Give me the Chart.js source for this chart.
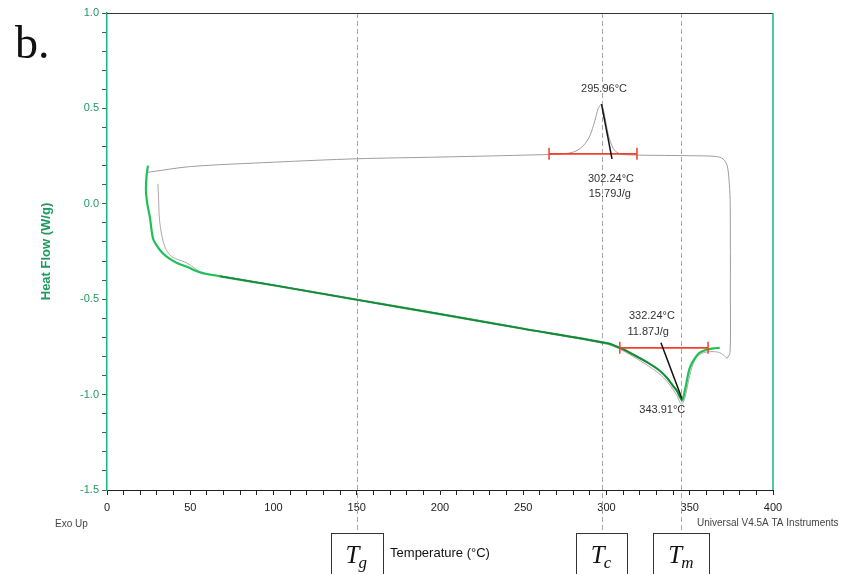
<!DOCTYPE html>
<html lang="en">
<head>
    <meta charset="UTF-8">
    <title>DSC Heat Flow</title>
    <script src="https://cdn.jsdelivr.net/npm/chart.js"></script>
    <style>
        html, body { margin: 0; padding: 0; background: #fff; }
        #wrap { position: relative; width: 847px; height: 574px; }
    </style>
</head>
<body>
<div id="wrap"><canvas id="myChart" width="847" height="574"></canvas></div>

<script>
    // first heating (gray)
    const heat1T  = [30.6, 31.0, 31.5, 33, 35, 38, 42, 48, 56, 68, 100, 150, 200, 250, 300, 308, 316, 326, 333, 338, 342, 345, 347, 350, 353, 357, 362, 368, 372.5];
    const heat1HF = [0.105, 0.02, -0.08, -0.17, -0.23, -0.27, -0.29, -0.31, -0.355, -0.378, -0.425, -0.50, -0.576, -0.652, -0.735, -0.762, -0.80, -0.855, -0.90, -0.95, -1.00, -1.05, -1.02, -0.90, -0.82, -0.785, -0.775, -0.78, -0.81];

    // cooling (gray), right to left
    const coolT  = [372.5, 374.2, 374.4, 374.3, 373.8, 372.5, 370, 366, 350, 320, 310, 307, 304, 301, 299.1, 297, 295, 293, 290, 286, 281, 274, 250, 200, 150, 100, 50, 24.6];
    const coolHF = [-0.81, -0.78, -0.5, 0.0, 0.1, 0.2, 0.235, 0.248, 0.252, 0.255, 0.258, 0.266, 0.29, 0.366, 0.452, 0.522, 0.498, 0.435, 0.356, 0.304, 0.274, 0.262, 0.255, 0.245, 0.236, 0.218, 0.195, 0.165];

    // second heating (green)
    const heat2T  = [24.6, 23.8, 23.4, 24.2, 25.8, 27.6, 30, 33.6, 38, 42, 48, 56, 68, 100, 150, 200, 250, 300, 308, 316, 326, 332, 336.3, 340, 342.3, 344, 345.3, 346, 347.5, 350, 353, 356, 360, 364, 368];
    const heat2HF = [0.20, 0.15, 0.068, 0.0, -0.073, -0.18, -0.22, -0.26, -0.29, -0.31, -0.33, -0.36, -0.38, -0.427, -0.503, -0.578, -0.655, -0.73, -0.755, -0.79, -0.839, -0.875, -0.912, -0.955, -0.98, -1.01, -1.03, -1.02, -0.96, -0.86, -0.81, -0.78, -0.765, -0.758, -0.755];

    // integration baselines (red) and onset tangents (black)
    const base1T = [265.5, 318.3], base1HF = [0.262, 0.262];
    const base2T = [308, 361],     base2HF = [-0.755, -0.755];
    const tan1T  = [297, 303.3],   tan1HF  = [0.522, 0.236];
    const tan2T  = [332.7, 345.3], tan2HF  = [-0.728, -1.02];

    // transition markers
    const markT = [150, 297, 345];
    const markLabels = [['T', 'g'], ['T', 'c'], ['T', 'm']];

    const xTicks = [0, 50, 100, 150, 200, 250, 300, 350, 400];
    const yTicks = [-1.5, -1.0, -0.5, 0.0, 0.5, 1.0];

    const peakNotes = [
        {text: '295.96°C', x: 298.5, y: 0.603},
        {text: '302.24°C', x: 302.7, y: 0.131},
        {text: '15.79J/g', x: 302,   y: 0.052},
        {text: '332.24°C', x: 327.3, y: -0.587},
        {text: '11.87J/g', x: 325,   y: -0.671},
        {text: '343.91°C', x: 333.5, y: -1.08}
    ];

    const GREEN_AXIS = '#12b97a';
    const GREEN_TEXT = '#1e9a60';

    const pts = (xs, ys) => xs.map((x, i) => ({x: x, y: ys[i]}));

    const line = (label, xs, ys, color, width, extra) => Object.assign({
        label: label,
        data: pts(xs, ys),
        showLine: true,
        borderColor: color,
        backgroundColor: color,
        borderWidth: width,
        pointRadius: 0,
        tension: 0.3
    }, extra || {});

    const overlay = {
        id: 'overlay',
        beforeDatasetsDraw(chart) {
            const {ctx, chartArea: a, scales: {x}} = chart;
            ctx.save();
            ctx.strokeStyle = '#a8a8a8';
            ctx.lineWidth = 1;
            ctx.setLineDash([5, 3]);
            markT.forEach(t => {
                const px = Math.round(x.getPixelForValue(t)) + 0.5;
                ctx.beginPath();
                ctx.moveTo(px, a.top);
                ctx.lineTo(px, 533);
                ctx.stroke();
            });
            ctx.restore();
        },
        afterDraw(chart) {
            const {ctx, chartArea: a, scales: {x, y}} = chart;
            ctx.save();
            // frame
            ctx.lineWidth = 1;
            ctx.strokeStyle = '#333';
            ctx.beginPath();
            ctx.moveTo(a.left, a.top + 0.5);
            ctx.lineTo(a.right, a.top + 0.5);
            ctx.stroke();
            ctx.strokeStyle = GREEN_AXIS;
            ctx.lineWidth = 1.5;
            ctx.beginPath();
            ctx.moveTo(a.right, a.top);
            ctx.lineTo(a.right, a.bottom);
            ctx.stroke();

            // peak notes
            ctx.fillStyle = '#333';
            ctx.font = '11px "Liberation Sans", Arial, sans-serif';
            ctx.textAlign = 'center';
            ctx.textBaseline = 'middle';
            peakNotes.forEach(n => {
                ctx.fillText(n.text, x.getPixelForValue(n.x), y.getPixelForValue(n.y));
            });

            // small texts
            ctx.font = '10px "Liberation Sans", Arial, sans-serif';
            ctx.fillStyle = '#444';
            ctx.textAlign = 'left';
            ctx.fillText('Exo Up', 55, 524);
            ctx.fillText('Universal V4.5A TA Instruments', 697, 523);

            ctx.fillStyle = '#111';
            ctx.font = '13px "Liberation Sans", Arial, sans-serif';
            ctx.textAlign = 'center';
            ctx.fillText('Temperature (°C)', 440, 553);

            // panel letter
            ctx.font = '46px "Liberation Serif", "DejaVu Serif", serif';
            ctx.textAlign = 'left';
            ctx.textBaseline = 'alphabetic';
            ctx.fillText('b.', 15, 58);

            // marker boxes
            const boxW = [52, 51, 56];
            markT.forEach((t, i) => {
                const cx = x.getPixelForValue(t);
                const w = boxW[i];
                const bx = Math.round(cx - w / 2) + 0.5;
                ctx.strokeStyle = '#333';
                ctx.lineWidth = 1;
                ctx.strokeRect(bx, 533.5, w, 50);
                ctx.fillStyle = '#111';
                ctx.font = 'italic 25px "Liberation Serif", "DejaVu Serif", serif';
                const main = markLabels[i][0], sub = markLabels[i][1];
                const mw = ctx.measureText(main).width;
                ctx.font = 'italic 17px "Liberation Serif", "DejaVu Serif", serif';
                const sw = ctx.measureText(sub).width;
                const sx = cx - (mw + sw) / 2;
                ctx.font = 'italic 25px "Liberation Serif", "DejaVu Serif", serif';
                ctx.fillText(main, sx, 563);
                ctx.font = 'italic 17px "Liberation Serif", "DejaVu Serif", serif';
                ctx.fillText(sub, sx + mw - 1, 568);
            });
            ctx.restore();
        }
    };

    const config = {
        type: 'scatter',
        data: {
            datasets: [
                line('tan1', tan1T, tan1HF, '#111', 1.5, {tension: 0}),
                line('tan2', tan2T, tan2HF, '#111', 1.5, {tension: 0}),
                line('base1', base1T, base1HF, '#f0402a', 1.8, {tension: 0, pointStyle: 'line', rotation: 90, pointRadius: 6, pointBorderWidth: 1.5}),
                line('base2', base2T, base2HF, '#f0402a', 1.8, {tension: 0, pointStyle: 'line', rotation: 90, pointRadius: 6, pointBorderWidth: 1.5}),
                line('heat2dark', heat2T.slice(12, 27), heat2HF.slice(12, 27), '#22803a', 1.6),
                line('heat2', heat2T, heat2HF, '#1dc257', 2.2),
                line('cool', coolT, coolHF, '#a39c9c', 1),
                line('heat1', heat1T, heat1HF, '#b0a6a6', 1)
            ]
        },
        options: {
            responsive: false,
            animation: false,
            layout: {padding: {left: 0, top: 13, right: 74, bottom: 0}},
            plugins: {
                legend: {display: false},
                tooltip: {enabled: false}
            },
            scales: {
                x: {
                    type: 'linear',
                    min: 0,
                    max: 400,
                    afterFit: s => { s.height = 84; },
                    afterBuildTicks: s => {
                        s.ticks = [];
                        for (let v = 0; v <= 400; v += 10) s.ticks.push({value: v});
                    },
                    ticks: {
                        autoSkip: false,
                        maxRotation: 0,
                        padding: 6,
                        color: '#222',
                        font: {family: '"Liberation Sans", Arial, sans-serif', size: 11},
                        callback: v => xTicks.includes(v) ? String(v) : ''
                    },
                    border: {color: '#222', width: 1},
                    grid: {drawOnChartArea: false, drawTicks: true, tickLength: 5, color: '#222'}
                },
                y: {
                    type: 'linear',
                    min: -1.5,
                    max: 1.0,
                    afterFit: s => { s.width = 107; },
                    afterBuildTicks: s => {
                        s.ticks = [];
                        for (let k = -15; k <= 10; k++) s.ticks.push({value: k / 10});
                    },
                    ticks: {
                        autoSkip: false,
                        padding: 3,
                        color: GREEN_TEXT,
                        font: {family: '"Liberation Sans", Arial, sans-serif', size: 11},
                        callback: v => {
                            const hit = yTicks.find(t => Math.abs(t - v) < 1e-6);
                            return hit === undefined ? '' : hit.toFixed(1);
                        }
                    },
                    border: {color: GREEN_AXIS, width: 1.5},
                    grid: {drawOnChartArea: false, drawTicks: true, tickLength: 5, color: '#555'},
                    title: {
                        display: true,
                        text: 'Heat Flow (W/g)',
                        color: GREEN_TEXT,
                        font: {family: '"Liberation Sans", Arial, sans-serif', size: 13, weight: 'bold'},
                        padding: {top: 39, bottom: 0}
                    }
                }
            }
        },
        plugins: [overlay]
    };

    const myChart = new Chart(document.getElementById('myChart'), config);
</script>
</body>
</html>
